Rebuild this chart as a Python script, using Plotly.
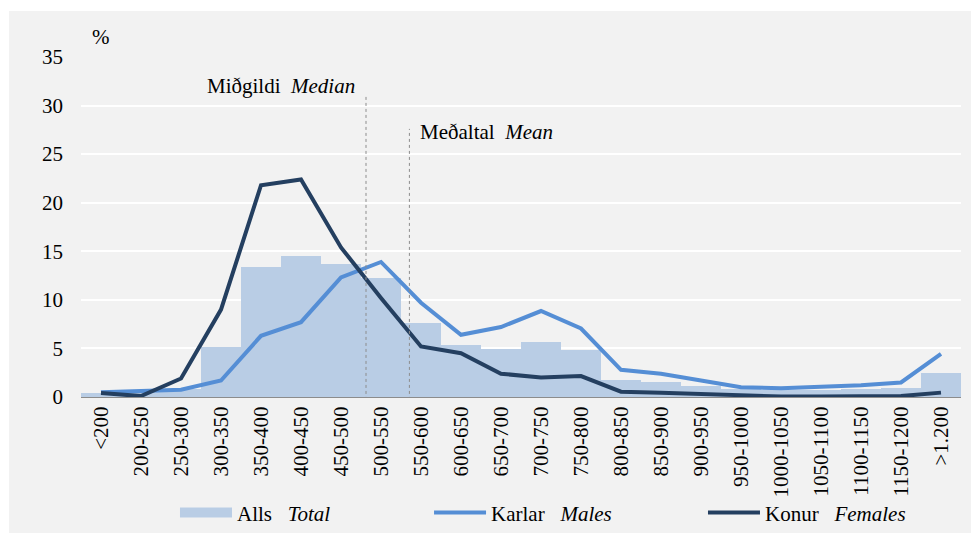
import plotly.graph_objects as go

categories = ["<200", "200-250", "250-300", "300-350", "350-400", "400-450", "450-500",
              "500-550", "550-600", "600-650", "650-700", "700-750", "750-800", "800-850",
              "850-900", "900-950", "950-1000", "1000-1050", "1050-1100", "1100-1150",
              "1150-1200", ">1.200"]
total = [0.4, 0.5, 0.8, 5.1, 13.4, 14.5, 13.7, 12.2, 7.6, 5.4, 4.9, 5.7, 4.8, 1.7,
         1.5, 1.1, 0.8, 0.7, 0.7, 0.8, 0.9, 2.5]
males = [0.5, 0.65, 0.75, 1.7, 6.3, 7.7, 12.3, 13.9, 9.7, 6.4, 7.2, 8.85, 7.05, 2.8,
         2.4, 1.7, 1.0, 0.9, 1.0, 1.2, 1.5, 4.45]
females = [0.4, 0.1, 1.9, 9.0, 21.8, 22.4, 15.4, 10.2, 5.2, 4.5, 2.4, 2.0, 2.15, 0.55,
           0.45, 0.3, 0.15, 0.05, 0.05, 0.1, 0.1, 0.45]
y_ticks = [0, 5, 10, 15, 20, 25, 30, 35]
median_pos = 6.625
mean_pos = 7.71

FONT = "Liberation Serif"
BAR_C = "#b9cde5"
MALE_C = "#558ed5"
FEM_C = "#243f60"

fig = go.Figure()
fig.add_trace(go.Bar(x=categories, y=total, name="Alls   <i>Total</i>", marker=dict(color=BAR_C, line=dict(width=0)),
                     width=1, showlegend=False))
fig.add_trace(go.Scatter(x=categories, y=males, mode="lines", name="Karlar   <i>Males</i>",
                         line=dict(color=MALE_C, width=4), showlegend=False))
fig.add_trace(go.Scatter(x=categories, y=females, mode="lines", name="Konur   <i>Females</i>",
                         line=dict(color=FEM_C, width=4), showlegend=False))
# legend entries
fig.add_trace(go.Scatter(x=[None], y=[None], mode="lines", name="Alls   <i>Total</i>",
                         line=dict(color=BAR_C, width=10), legend="legend"))
fig.add_trace(go.Scatter(x=[None], y=[None], mode="lines", name="Karlar   <i>Males</i>",
                         line=dict(color=MALE_C, width=4), legend="legend2"))
fig.add_trace(go.Scatter(x=[None], y=[None], mode="lines", name="Konur   <i>Females</i>",
                         line=dict(color=FEM_C, width=4), legend="legend3"))

shapes = [
    dict(type="rect", xref="paper", yref="paper", x0=-0.0818, x1=1.03, y0=-0.4, y1=1.135,
         fillcolor="#f2f2f2", line=dict(width=0), layer="below"),
    dict(type="line", xref="x", yref="y", x0=median_pos, x1=median_pos, y0=-0.3, y1=31.0,
         line=dict(color="#8c8c8c", width=1, dash="dot")),
    dict(type="line", xref="x", yref="y", x0=mean_pos, x1=mean_pos, y0=-0.3, y1=27.6,
         line=dict(color="#8c8c8c", width=1, dash="dot")),
]

annotations = [
    dict(text="Miðgildi  <i>Median</i>", x=6.4, y=32.0, xref="x", yref="y", xanchor="right",
         yanchor="middle", showarrow=False, font=dict(family=FONT, size=21, color="black")),
    dict(text="Meðaltal  <i>Mean</i>", x=7.93, y=27.3, xref="x", yref="y", xanchor="left",
         yanchor="middle", showarrow=False, font=dict(family=FONT, size=21, color="black")),
    dict(text="%", x=0.0227, y=1.06, xref="paper", yref="paper", xanchor="center",
         yanchor="middle", showarrow=False, font=dict(family=FONT, size=21, color="black")),
]


def leg(x):
    return dict(orientation="h", x=x, xref="paper", y=0.040, yref="container",
                xanchor="left", yanchor="middle", bgcolor="rgba(0,0,0,0)",
                font=dict(family=FONT, size=21, color="black"), itemwidth=52)


fig.update_layout(
    width=971, height=526,
    margin=dict(l=73, r=18, t=49, b=137),
    paper_bgcolor="white",
    plot_bgcolor="#d9d9d9",
    bargap=0,
    font=dict(family=FONT, size=21, color="black"),
    shapes=shapes,
    annotations=annotations,
    showlegend=True,
    legend=leg(0.1068),
    legend2=leg(0.3955),
    legend3=leg(0.7068),
    xaxis=dict(type="category", tickangle=-90, showgrid=False, showline=True, automargin=False,
               linecolor="#8c8c8c", linewidth=1, ticks="", tickfont=dict(family=FONT, size=21),
               range=[-0.5, 21.5], fixedrange=True),
    yaxis=dict(range=[0, 35], tickvals=y_ticks, showgrid=True, gridcolor="white", gridwidth=2,
               zeroline=False, showline=False, ticks="", ticklabelstandoff=17, automargin=False,
               tickfont=dict(family=FONT, size=21), fixedrange=True),
)

fig.write_html("out.html")
